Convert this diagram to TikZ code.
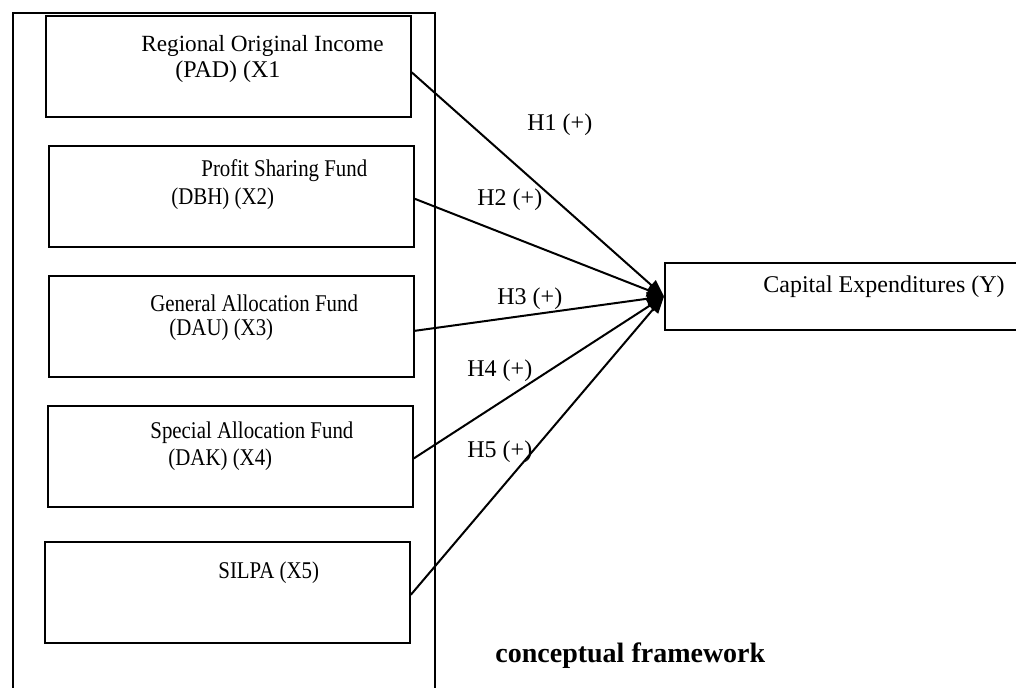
\documentclass[tikz,border=0pt]{standalone}
\usepackage{fontspec}
\setmainfont{Liberation Serif}
\newfontfamily\narrowserif[FakeStretch=0.87]{Liberation Serif}
\usetikzlibrary{arrows.meta}
\tikzset{
	fbox/.style={draw, line width=0.9pt, minimum width=182.5pt, minimum height=50.5pt, inner sep=0pt, anchor=north west},
	txt/.style={inner sep=0pt, anchor=west, font=\fontsize{12}{14}\selectfont},
	ntxt/.style={txt, font=\fontsize{12}{14}\narrowserif},
	link/.style={line width=1pt, -{Triangle[length=8.5pt,width=6.5pt]}}
}
\begin{document}
\begin{tikzpicture}[x=0.5pt,y=-0.5pt]
		\useasboundingbox (0,0) rectangle (1016,687);
		\clip (0,0) rectangle (1016,687);
		\draw[line width=0.9pt] (13,700) -- (13,13) -- (435,13) -- (435,700);
		\node[fbox] (b1) at (45,15) {};
		\node[fbox] (b2) at (48,145) {};
		\node[fbox] (b3) at (48,275) {};
		\node[fbox] (b4) at (47,405) {};
		\node[fbox] (b5) at (44,541) {};
		\node[fbox, minimum width=190pt, minimum height=33.5pt] (cap) at (664,262) {};
		\node[txt, font=\fontsize{11.6}{14}\selectfont] (t1a) at (141,46) {Regional Original Income};
		\node[txt] (t1b) at (175,72) {(PAD) (X1};
		\node[ntxt] (t2a) at (201,171) {Profit Sharing Fund};
		\node[ntxt] (t2b) at (171,199) {(DBH) (X2)};
		\node[ntxt] (t3a) at (150,303) {General Allocation Fund};
		\node[ntxt] (t3b) at (169,330) {(DAU) (X3)};
		\node[ntxt] (t4a) at (150,433) {Special Allocation Fund};
		\node[ntxt] (t4b) at (168,460) {(DAK) (X4)};
		\node[ntxt] (t5) at (218,573) {SILPA (X5)};
		\node[txt] (ty) at (763,287) {Capital Expenditures (Y)};
		\draw[link] ([yshift=-3pt]b1.east) -- (cap.west);
		\draw[link] ([yshift=-1.2pt]b2.east) -- (cap.west);
		\draw[link] ([yshift=-2.2pt]b3.east) -- (cap.west);
		\draw[link] ([yshift=-1pt]b4.east) -- (cap.west);
		\draw[link] ([yshift=-1.2pt]b5.east) -- (cap.west);
		\node[txt] (h1) at (527,125) {H1 (+)};
		\node[txt] (h2) at (477,200) {H2 (+)};
		\node[txt] (h3) at (497,299) {H3 (+)};
		\node[txt] (h4) at (467,371) {H4 (+)};
		\node[txt] (h5) at (467,452) {H5 (+)};
		\node[txt, font=\fontsize{14}{16}\selectfont\bfseries] (cf) at (495,656) {conceptual framework};
\end{tikzpicture}
\end{document}
